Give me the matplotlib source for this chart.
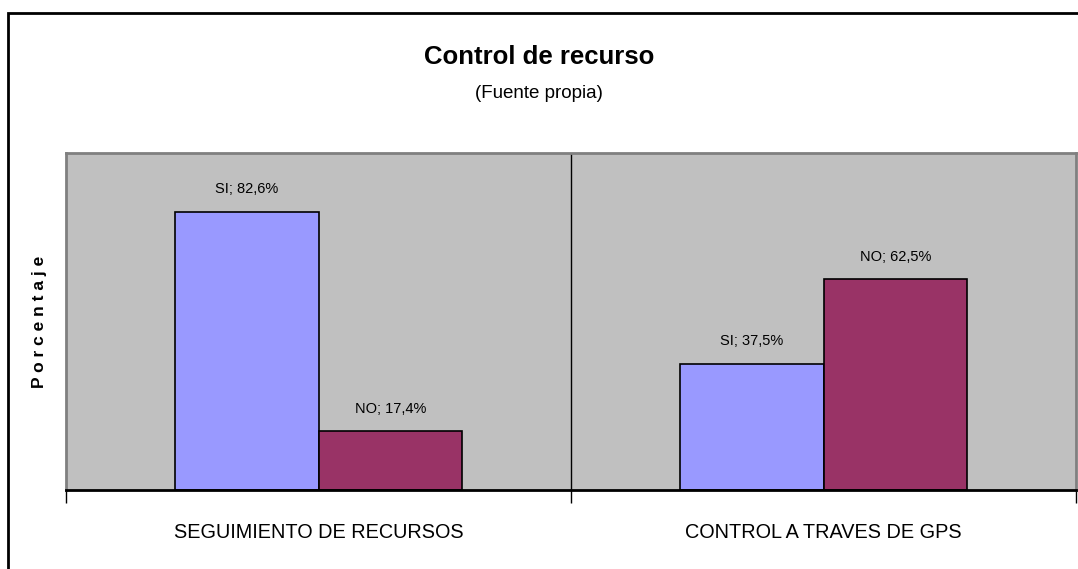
import matplotlib.pyplot as plt
import numpy as np
from matplotlib.patches import Rectangle

categorias = ["SEGUIMIENTO DE RECURSOS", "CONTROL A TRAVES DE GPS"]
si = [82.6, 37.5]
no = [17.4, 62.5]
etiquetas_si = ["SI; 82,6%", "SI; 37,5%"]
etiquetas_no = ["NO; 17,4%", "NO; 62,5%"]

fuente = ["Liberation Sans Narrow", "Liberation Sans", "DejaVu Sans"]
plt.rcParams["font.family"] = fuente

fig = plt.figure(figsize=(10.78, 5.69), dpi=100)
ax = fig.add_axes([66/1078, 1-490/569, (1076-66)/1078, (490-153)/569])

# marco exterior del grafico
fig.patches.append(Rectangle((8/1078, -0.05), 1.2, 1-13/569+0.05, transform=fig.transFigure,
                             fill=False, edgecolor="black", linewidth=2))

x = np.arange(len(categorias))
ancho = 0.285
b1 = ax.bar(x - ancho/2, si, ancho, color="#9999FF", edgecolor="black", linewidth=1.2)
b2 = ax.bar(x + ancho/2, no, ancho, color="#993366", edgecolor="black", linewidth=1.2)

for barras, textos in [(b1, etiquetas_si), (b2, etiquetas_no)]:
    for b, t in zip(barras, textos):
        ax.annotate(t, (b.get_x() + b.get_width()/2, b.get_height()), xytext=(0, 11),
                    textcoords="offset points", ha="center", va="bottom", fontsize=10.5)

ax.set_facecolor("#C0C0C0")
ax.set_xlim(-0.5, 1.5)
ax.set_ylim(0, 100)
ax.axvline(0.5, color="black", linewidth=1)
ax.set_yticks([])
ax.set_xticks([-0.5, 0.5, 1.5])
ax.set_xticklabels([])
ax.set_xticks(x, minor=True)
ax.set_xticklabels(categorias, minor=True, fontsize=14.3)
ax.tick_params(axis="x", which="major", length=9, width=1, direction="out")
ax.tick_params(axis="x", which="minor", length=0, pad=24)
for s in ["top", "left", "right"]:
    ax.spines[s].set_color("#808080")
    ax.spines[s].set_linewidth(2)
ax.spines["bottom"].set_linewidth(2)

ax.set_ylabel("P o r c e n t a j e", fontsize=12.5, fontweight="bold",
              family=["Liberation Sans", "DejaVu Sans"], labelpad=14)

fig.text(0.5, 1-57/569, "Control de recurso", ha="center", va="center",
         fontsize=18.5, fontweight="bold")
fig.text(0.5, 1-93/569, "(Fuente propia)", ha="center", va="center", fontsize=13.5)

fig.savefig("out.png", dpi=100)
